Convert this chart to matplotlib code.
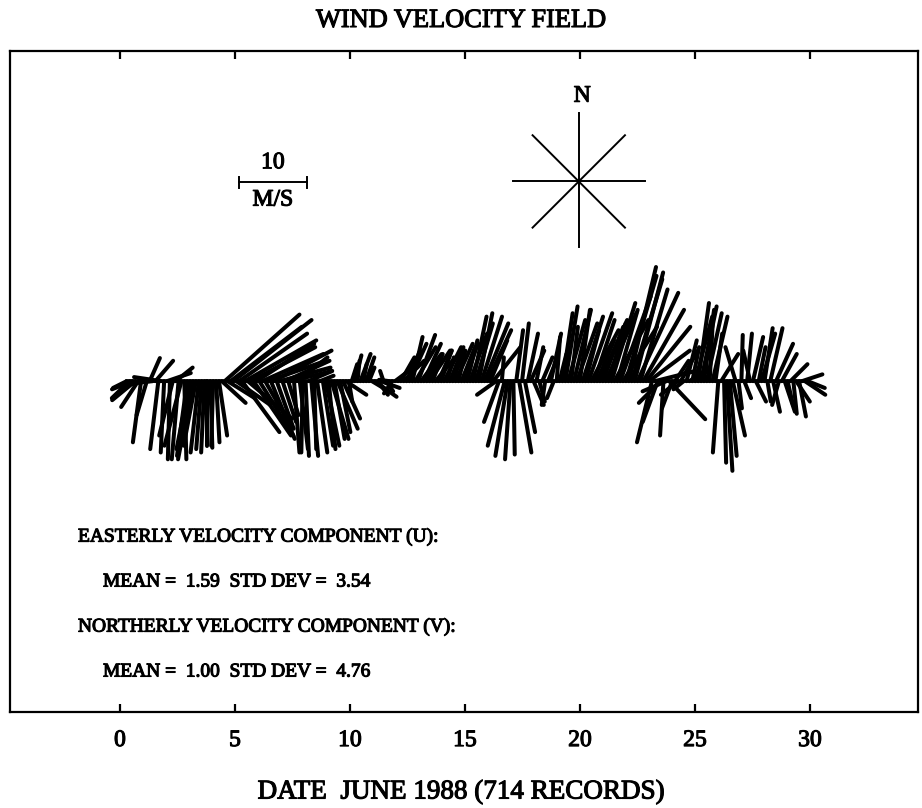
import numpy as np
import matplotlib
matplotlib.use("Agg")
import matplotlib.pyplot as plt
import matplotlib.patheffects as pe
from matplotlib.collections import LineCollection

plt.rcParams['font.family'] = ['Liberation Serif', 'DejaVu Serif']

# ---- data: wind records (about every 3 h), u = easterly, v = northerly (m/s)
START_DAY = 0.29
STEP_DAYS = 0.1255

u_east = [
    -2.0, -2.6, -3.0, -3.4, -2.5,                       # day 0
    -1.2, -3.5, -1.5, 1.5, -4.5, 2.6, -1.2, -4.0,       # day 1
    -0.5, 3.5, -0.3, -2.0, 2.5, -1.0, -2.5, 0.3,        # day 2
    -1.5, -2.0, -2.2, -1.8, -1.2, -0.8, -0.5, 0.0,      # day 3
    0.3, -0.3, 0.5, 1.2, 3.5, 11.0, 4.0, 10.5,          # day 4
    11.5, 5.0, 10.0, 5.5, 10.5, 6.5, 9.5, 5.5,          # day 5
    8.5, 5.0, 9.0, 4.0, 8.5, 3.5, 8.5, 2.5,             # day 6
    7.5, 2.0, 6.5, 1.5, 6.0, 0.8, 4.5, 1.2,             # day 7
    -0.2, 0.5, 3.5, 1.0, 0.3, 1.5, 2.0, 1.5,            # day 8
    2.0, 1.0, 2.5, 1.5, 3.0, 1.5, 2.5, 3.0,             # day 9
    0.5, 0.8, 1.0, 0.3, 1.5, 0.5, 1.2, 0.8,             # day 10
    2.5, 3.2, 1.5, 2.8, -0.5, 1.0, -1.5, -1.2,          # day 11
    2.0, 2.5, 2.0, 3.0, 2.0, 2.5, 1.5, 3.0,             # day 12
    2.5, 3.0, 2.5, 2.0, 3.0, 1.5, 2.5, 2.0,             # day 13
    1.5, 2.5, 1.0, 2.0, 1.5, 2.5, 1.0, 2.0,             # day 14
    2.0, 1.5, 2.5, 2.0, 2.5, 2.0, 3.0, 3.5,             # day 15
    3.5, 2.5, 4.0, -2.8, -2.2, 0.3, -2.5, -1.8,         # day 16
    -0.8, 0.2, 1.0, 1.8, 1.0, 1.5, 1.5, 2.0,            # day 17
    1.5, 1.0, 0.8, 1.5, -0.5, 1.0, 1.5, -1.0,           # day 18
    0.5, 1.0, 1.5, 1.8, 2.5, 1.0, 2.5, 3.0,             # day 19
    1.5, 3.0, 2.0, 3.5, 4.0, 3.0, 2.5, 4.0,             # day 20
    3.0, 4.5, 2.5, 3.5, 5.0, 3.0, 4.5, 5.0,             # day 21
    4.5, 4.0, 4.5, 4.2, 6.0, 4.0, 6.0, 6.5,             # day 22
    6.0, -2.2, 6.0, -2.2, -3.2, -0.5, -3.5, 5.3,        # day 23
    -1.5, 2.0, -2.5, 2.5, -1.5, 1.5, 3.0, 1.0,          # day 24
    2.5, 1.6, 2.3, 1.5, 2.2, 0.5, 2.2, 1.0,             # day 25
    -0.8, 2.5, 0.3, 0.8, 1.0, 1.8, -1.5, 0.5,           # day 26
    0.2, 1.0, 0.7, -1.0, 1.5, 1.5, 1.0, 2.0,            # day 27
    1.2, 0.5, 1.8, 1.0, 2.5, -1.0, 2.2, 1.5,            # day 28
    0.8, 2.5, 0.5, 2.0, 1.0, 3.0, 3.0, 2.5,             # day 29
]

v_north = [
    -1.0, -2.5, -1.2, -2.8, -3.8,                       # day 0
    -9.0, -0.8, -5.0, 3.4, -0.5, 3.0, -10.0, 0.6,       # day 1
    -10.5, 1.2, -11.5, -8.0, 2.0, -11.5, -9.5, -11.5,   # day 2
    -11.0, -10.0, -11.5, -9.5, -10.5, -10.0, -10.5, -9.5,  # day 3
    -9.8, -9.5, -9.0, -8.0, -3.2, 9.8, -2.5, 8.0,       # day 4
    9.0, -3.5, 7.0, -7.5, 6.0, -5.5, 5.0, -8.0,         # day 5
    5.5, -8.0, 4.0, -7.0, 3.0, -8.5, 4.5, -7.0,         # day 6
    2.0, -6.0, 3.0, -5.0, 1.5, -10.5, 3.5, -10.0,       # day 7
    -10.5, -11.0, 1.5, -11.0, -10.0, -10.5, 0.8, -9.5,  # day 8
    -9.5, -10.0, -8.5, -8.5, -7.0, -7.5, -5.5, -2.0,    # day 9
    -3.0, 2.5, 3.8, 3.0, 4.0, 2.5, 3.5, 2.0,            # day 10
    -1.5, -2.3, -2.0, -1.0, 1.5, -1.5, 0.2, -1.8,       # day 11
    1.5, 2.5, 3.5, 3.0, 4.5, 5.5, 6.5, 5.0,             # day 12
    6.8, 4.0, 5.5, 3.5, 4.5, 4.0, 3.0, 4.5,             # day 13
    4.5, 5.0, 3.5, 5.0, 4.0, 5.5, 4.5, 5.0,             # day 14
    5.5, 6.0, 7.0, 9.5, 8.5, 10.0, 9.5, 8.5,            # day 15
    7.5, 6.0, 5.0, -2.0, -6.0, 3.5, -9.5, -11.0,        # day 16
    -11.5, -10.8, 7.5, -10.5, 8.5, -7.5, 7.0, 4.5,      # day 17
    -3.5, 5.0, -3.0, 3.5, -3.5, 2.5, 7.0, -2.5,         # day 18
    6.5, 4.0, 10.0, 11.0, 9.0, 8.0, 10.5, 8.5,          # day 19
    10.5, 9.5, 7.5, 10.0, 7.5, 9.0, 6.0, 9.0,           # day 20
    8.0, 10.0, 8.5, 11.5, 9.0, 10.5, 12.5, 8.0,         # day 21
    15.5, 16.8, 15.0, 16.0, 13.0, 13.5, 10.5, 8.0,      # day 22
    4.5, -9.0, 1.5, -6.0, -3.2, -8.0, -1.5, -5.6,       # day 23
    -4.0, 3.0, -2.0, 4.5, -1.2, 6.0, 2.0, 5.0,          # day 24
    9.5, 11.5, 11.0, 10.5, 10.0, 9.5, 9.5, 7.0,         # day 25
    -10.5, 4.0, -12.0, -13.2, -11.0, -8.0, 5.0, -4.0,   # day 26
    6.8, -2.5, 7.0, 4.5, 6.5, -3.0, 5.0, 7.0,           # day 27
    7.8, -3.0, 7.8, -4.5, 5.5, -3.5, 4.0, -4.5,         # day 28
    -3.5, 2.5, -4.8, -3.0, -5.2, 1.0, -2.0, -1.0,       # day 29
]

tick_days = [0, 5, 10, 15, 20, 25, 30]
tick_labels = ['0', '5', '10', '15', '20', '25', '30']

title = 'WIND VELOCITY FIELD'
xlabel = 'DATE  JUNE 1988 (714 RECORDS)'
stat_lines = [
    'EASTERLY VELOCITY COMPONENT (U):',
    'MEAN =  1.59  STD DEV =  3.54',
    'NORTHERLY VELOCITY COMPONENT (V):',
    'MEAN =  1.00  STD DEV =  4.76',
]
scale_speed = 10  # m/s

ink = [pe.withStroke(linewidth=0.8, foreground='black')]

# ---- figure
W, H = 922, 808
fig = plt.figure(figsize=(W / 100, H / 100), dpi=100)
ax = fig.add_axes([10 / W, 96 / H, 908 / W, 661 / H])
ax.set_xlim(-4.78, 34.7)
ax.set_ylim(-48.7, 48.6)

# equal pixel scale for a stick's u and v
fig.canvas.draw()
bb = ax.get_window_extent()
px_per_day = bb.width / (34.7 + 4.78)
px_per_ms = bb.height / (48.6 + 48.7)
k = px_per_ms / px_per_day  # days per m/s horizontally

n = len(u_east)
t = START_DAY + STEP_DAYS * np.arange(n)
ua = np.array(u_east)
va = np.array(v_north)
segs = [[(ti, 0.0), (ti + ui * k, vi)] for ti, ui, vi in zip(t, ua, va)]
ax.add_collection(LineCollection(segs, colors='black', linewidths=2.9,
                                 capstyle='round'))
ax.plot([t[0], t[-1]], [0, 0], color='black', lw=2.6)

# scale bar (10 m/s)
sx, sy = 6.65, 29.3
half = scale_speed / 2 * k
ax.plot([sx - half, sx + half], [sy, sy], color='black', lw=1.4)
for xe in (sx - half, sx + half):
    ax.plot([xe, xe], [sy - 0.8, sy + 0.8], color='black', lw=1.4)
ax.text(sx, sy + 1.3, '10', ha='center', va='bottom', fontsize=17,
        path_effects=ink)
ax.text(sx, sy - 1.1, 'M/S', ha='center', va='top', fontsize=17,
        path_effects=ink)

# compass rose
cx, cy = 19.95, 29.4
r = 9.7
d = 6.8
ax.plot([cx, cx], [cy - r, cy + 10.0], color='black', lw=1.4)
ax.plot([cx - r * k, cx + r * k], [cy, cy], color='black', lw=1.4)
ax.plot([cx - d * k, cx + d * k], [cy - d, cy + d], color='black', lw=1.4)
ax.plot([cx - d * k, cx + d * k], [cy + d, cy - d], color='black', lw=1.4)
ax.text(cx + 0.15, cy + 11.0, 'N', ha='center', va='bottom', fontsize=17,
        path_effects=ink)

# axes styling
for s in ax.spines.values():
    s.set_linewidth(1.6)
ax.set_yticks([])
ax.set_xticks(tick_days)
ax.set_xticklabels(tick_labels, fontsize=17)
for lab in ax.get_xticklabels():
    lab.set_path_effects(ink)
ax.tick_params(axis='x', direction='in', length=6, width=1.6, top=True,
               bottom=True, pad=13)

# texts
fig.text(461 / W, 1 - 21 / H, title, ha='center', va='center', fontsize=19,
         path_effects=ink)
fig.text(461 / W, 1 - 792 / H, xlabel, ha='center', va='center', fontsize=19.5,
         path_effects=ink)
ys = [537, 582, 627, 672]
xs = [78, 103, 78, 103]
for line, xp, yp in zip(stat_lines, xs, ys):
    fig.text(xp / W, 1 - yp / H, line, ha='left', va='center', fontsize=14,
             path_effects=ink)

fig.savefig('out.png', dpi=100)
